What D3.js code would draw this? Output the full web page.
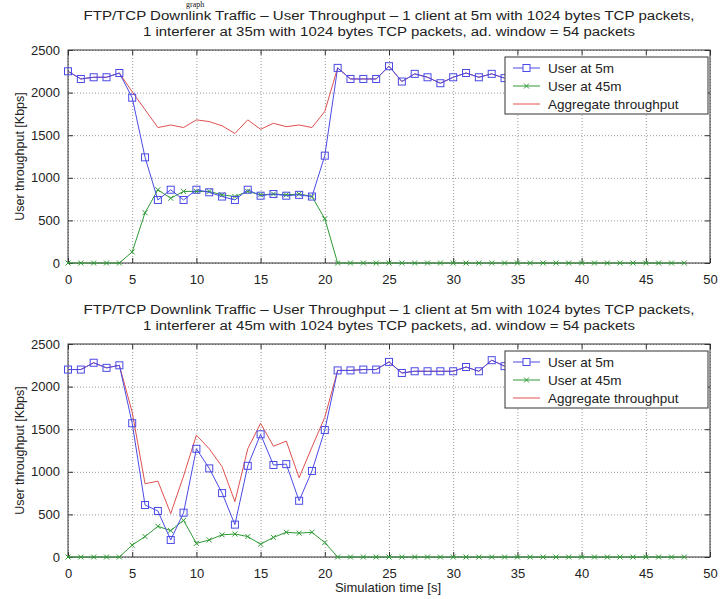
<!DOCTYPE html>
<html>
<head>
<meta charset="utf-8">
<script src="https://cdn.jsdelivr.net/npm/d3@7"></script>
<style>
  body { margin: 0; background: #fff; }
  svg { display: block; }
  text { font-family: "Liberation Sans", Arial, sans-serif; fill: #222; }
</style>
</head>
<body>
<div id="chart"></div>
<script>
// simulation time (s) for every sample
const seconds = [0,1,2,3,4,5,6,7,8,9,10,11,12,13,14,15,16,17,18,19,20,21,22,23,24,
  25,26,27,28,29,30,31,32,33,34,35,36,37,38,39,40,41,42,43,44,45,46,47,48];

// panel 1: interferer at 35m
const user5Top = [2250,2160,2180,2180,2230,1940,1240,740,860,740,860,830,780,740,860,
  790,810,790,800,780,1260,2290,2160,2160,2160,2310,2130,2220,2180,2110,2180,2230,2180,2220,2170];
const user45Top = [0,0,0,0,0,130,590,860,760,840,840,840,800,780,840,800,810,800,810,780,520,
  0,0,0,0,0,0,0,0,0,0,0,0,0,0,0,0,0,0,0,0,0,0,0,0,0,0,0,0];
const aggTop = [2250,2160,2180,2180,2230,2010,1800,1590,1620,1590,1680,1660,1610,1520,1680,
  1570,1640,1600,1620,1590,1780,2290,2160,2160,2160,2310,2130,2220,2180,2110,2180,2230,2180,2220,2170];

// panel 2: interferer at 45m
const user5Bot = [2200,2200,2280,2220,2250,1570,610,540,200,520,1270,1040,750,380,1070,
  1440,1080,1090,660,1010,1490,2190,2190,2200,2200,2290,2160,2180,2180,2180,2180,2230,2180,2310,2240];
const user45Bot = [0,0,0,0,0,140,240,360,310,430,160,200,260,270,240,150,230,290,280,290,170,
  0,0,0,0,0,0,0,0,0,0,0,0,0,0,0,0,0,0,0,0,0,0,0,0,0,0,0,0];
const aggBot = [2200,2200,2280,2220,2250,1700,860,890,510,950,1430,1270,1060,650,1270,
  1570,1300,1360,930,1290,1640,2190,2190,2200,2200,2290,2160,2180,2180,2180,2180,2230,2180,2310,2240];

const xTicks = [0,5,10,15,20,25,30,35,40,45,50];
const yTicks = [0,500,1000,1500,2000,2500];
const legendLabels = ["User at 5m", "User at 45m", "Aggregate throughput"];

const titleLine1 = "FTP/TCP Downlink Traffic \u2013 User Throughput \u2013 1 client at 5m with 1024 bytes TCP packets,";
const titlesLine2 = [
  "1 interferer at 35m with 1024 bytes TCP packets, ad. window = 54 packets",
  "1 interferer at 45m with 1024 bytes TCP packets, ad. window = 54 packets"
];

const width = 720, height = 599;
const blue = "#4a4ae6", green = "#2f9a35", red = "#e05050";

const svg = d3.select("#chart").append("svg")
  .attr("width", width).attr("height", height);

// scrap of the page text above the figure
svg.append("text")
  .attr("x", 186).attr("y", 7)
  .style("font-family", "'Liberation Serif', 'Times New Roman', serif")
  .style("font-size", "8px").style("fill", "#111")
  .text("graph");

const x = d3.scaleLinear().domain([0, 50]).range([68, 710]);

function asPoints(vals) {
  return vals.map((v, i) => [seconds[i], v]);
}

function drawPanel(top, bottom, series, title2, showXLabel) {
  const y = d3.scaleLinear().domain([0, 2500]).range([bottom, top]);
  const g = svg.append("g");
  const h = bottom - top;

  // dotted grid
  g.append("g").attr("transform", `translate(0,${bottom})`)
    .call(d3.axisBottom(x).tickValues(xTicks).tickSize(-h).tickFormat(""))
    .call(a => a.select(".domain").remove())
    .selectAll("line").attr("stroke", "#999").attr("stroke-dasharray", "1,2");
  g.append("g").attr("transform", `translate(68,0)`)
    .call(d3.axisLeft(y).tickValues(yTicks).tickSize(-(710 - 68)).tickFormat(""))
    .call(a => a.select(".domain").remove())
    .selectAll("line").attr("stroke", "#999").attr("stroke-dasharray", "1,2");

  // inner ticks on all four sides
  const tickAxes = [
    [d3.axisBottom(x).tickValues(xTicks), `translate(0,${bottom})`, true],
    [d3.axisTop(x).tickValues(xTicks), `translate(0,${top})`, false],
    [d3.axisLeft(y).tickValues(yTicks), `translate(68,0)`, true],
    [d3.axisRight(y).tickValues(yTicks), `translate(710,0)`, false]
  ];
  tickAxes.forEach(([ax, tr, labels], i) => {
    const a = g.append("g").attr("transform", tr)
      .call(ax.tickFormat(d3.format("d")).tickSizeInner(-5).tickSizeOuter(0).tickPadding(i < 2 ? 12 : 8));
    a.select(".domain").remove();
    a.selectAll("line").attr("stroke", "#333");
    if (labels) {
      a.selectAll("text").style("font-size", "13px").style("fill", "#222")
        .style("font-family", "'Liberation Sans', Arial, sans-serif");
    } else {
      a.selectAll("text").remove();
    }
  });

  // frame
  g.append("rect").attr("x", 68).attr("y", top)
    .attr("width", 710 - 68).attr("height", h)
    .attr("fill", "none").attr("stroke", "#333").attr("stroke-width", 1);

  const line = d3.line().x(d => x(d[0])).y(d => y(d[1]));

  // aggregate
  g.append("path").datum(asPoints(series.agg))
    .attr("d", line).attr("fill", "none").attr("stroke", red).attr("stroke-width", 1);

  // user at 45m
  const p45 = asPoints(series.u45);
  g.append("path").datum(p45)
    .attr("d", line).attr("fill", "none").attr("stroke", green).attr("stroke-width", 1);
  g.selectAll(".m45").data(p45).enter().append("path")
    .attr("d", d => {
      const cx = x(d[0]), cy = y(d[1]), r = 2.5;
      return `M${cx - r},${cy - r}L${cx + r},${cy + r}M${cx - r},${cy + r}L${cx + r},${cy - r}`;
    })
    .attr("stroke", green).attr("stroke-width", 1);

  // user at 5m
  const p5 = asPoints(series.u5);
  g.append("path").datum(p5)
    .attr("d", line).attr("fill", "none").attr("stroke", blue).attr("stroke-width", 1);
  g.selectAll(".m5").data(p5).enter().append("rect")
    .attr("x", d => x(d[0]) - 3.5).attr("y", d => y(d[1]) - 3.5)
    .attr("width", 7).attr("height", 7)
    .attr("fill", "none").attr("stroke", blue).attr("stroke-width", 1);

  // titles
  g.append("text").attr("x", 389).attr("y", top - 30).attr("text-anchor", "middle")
    .attr("textLength", 611).attr("lengthAdjust", "spacingAndGlyphs")
    .style("font-size", "12px").text(titleLine1);
  g.append("text").attr("x", 389).attr("y", top - 14).attr("text-anchor", "middle")
    .attr("textLength", 492).attr("lengthAdjust", "spacingAndGlyphs")
    .style("font-size", "12px").text(title2);

  // y label
  g.append("text")
    .attr("transform", `translate(24,${(top + bottom) / 2}) rotate(-90)`)
    .attr("text-anchor", "middle").style("font-size", "12.5px")
    .text("User throughput [Kbps]");

  if (showXLabel) {
    g.append("text").attr("x", 388).attr("y", bottom + 35)
      .attr("text-anchor", "middle").style("font-size", "13px")
      .text("Simulation time [s]");
  }

  // legend
  const lx = 505, ly = top + 7, lw = 203, lh = 57;
  const lg = g.append("g");
  lg.append("rect").attr("x", lx).attr("y", ly).attr("width", lw).attr("height", lh)
    .attr("fill", "#fff").attr("stroke", "#333").attr("stroke-width", 1);
  const colors = [blue, green, red];
  legendLabels.forEach((lab, i) => {
    const ry = ly + 11 + i * 18;
    lg.append("line").attr("x1", lx + 8).attr("x2", lx + 35)
      .attr("y1", ry).attr("y2", ry).attr("stroke", colors[i]);
    if (i === 0) {
      lg.append("rect").attr("x", lx + 18).attr("y", ry - 3.5).attr("width", 7).attr("height", 7)
        .attr("fill", "#fff").attr("stroke", blue);
    }
    if (i === 1) {
      lg.append("path")
        .attr("d", `M${lx + 19},${ry - 2.5}L${lx + 24},${ry + 2.5}M${lx + 19},${ry + 2.5}L${lx + 24},${ry - 2.5}`)
        .attr("stroke", green);
    }
    lg.append("text").attr("x", lx + 43).attr("y", ry + 5)
      .style("font-size", "13.5px").text(lab);
  });
}

drawPanel(50, 263, { u5: user5Top, u45: user45Top, agg: aggTop }, titlesLine2[0], false);
drawPanel(344, 557, { u5: user5Bot, u45: user45Bot, agg: aggBot }, titlesLine2[1], true);
</script>
</body>
</html>
